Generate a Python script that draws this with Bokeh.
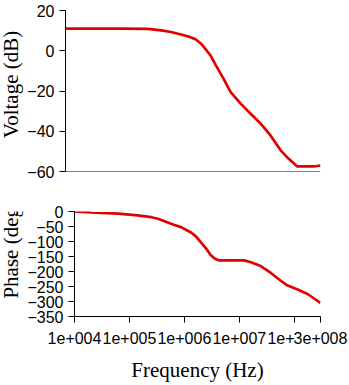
import math
from bokeh.plotting import figure
from bokeh.layouts import column, row
from bokeh.models import FixedTicker, Range1d, Span
from bokeh.core.properties import value
from bokeh.embed import file_html
from bokeh.resources import INLINE

# Data
freq_v = [1.0e4, 1.0e5, 2.8e5, 4.8e5, 7.1e5, 1.07e6, 1.5e6, 1.95e6, 2.4e6, 2.75e6,
          3.55e6, 4.37e6, 5.75e6, 7.94e6, 1.2e7, 1.78e7, 2.69e7, 3.98e7, 6.03e7,
          8.3e7, 1.17e8, 2.3e8, 3.0e8]
voltage_db = [11.0, 11.0, 10.9, 10.1, 9.3, 8.1, 6.9, 5.6, 3.5, 1.5,
              -2.5, -7.3, -13.1, -20.6, -26.4, -31.3, -36.3, -42.1, -49.6,
              -53.7, -57.5, -57.5, -57.0]

freq_p = [1.0e4, 2.0e4, 6.2e4, 1.4e5, 2.5e5, 3.3e5, 6.6e5, 8.7e5, 1.15e6, 1.32e6,
          1.62e6, 2.0e6, 2.45e6, 3.0e6, 3.55e6, 4.3e6, 1.23e7, 1.62e7, 2.45e7,
          3.7e7, 5.6e7, 7.4e7, 1.15e8, 1.74e8, 2.3e8, 3.0e8]
phase_deg = [0, -3, -7, -13, -19, -24, -45, -52, -64, -70,
             -83, -103, -122, -145, -157, -163, -163, -169, -182,
             -204, -230, -246, -260, -275, -290, -305]

x_ticks = [1e4, 1e5, 1e6, 1e7, 1e8, 3e8]
# the 1e+008 label is partly covered by 3e+008 in the reference
x_tick_labels = ["1e+004", "1e+005", "1e+006", "1e+007",
                 "1e+" + "\u00a0" * 6, "3e+008"]
v_ticks = [20, 0, -20, -40, -60]
p_ticks = [0, -50, -100, -150, -200, -250, -300, -350]
y_titles = ["Voltage (dB)", "Phase (deg)"]

LINE = "#e00000"
TICK_FONT = "Liberation Sans"
TITLE_FONT = "Liberation Serif"
TITLE_W = 24

def style(p):
    p.outline_line_color = None
    p.grid.visible = False
    p.background_fill_color = "white"
    p.border_fill_color = "white"
    for ax in p.axis:
        ax.axis_line_color = "black"
        ax.major_tick_line_color = "black"
        ax.major_tick_out = 6
        ax.major_tick_in = 0
        ax.minor_tick_line_color = None
        ax.major_label_text_font = TICK_FONT
        ax.major_label_text_font_size = "16px"
        ax.major_label_text_color = "black"
        ax.axis_label_text_font = TITLE_FONT
        ax.axis_label_text_font_size = "21px"
        ax.axis_label_text_font_style = "normal"
        ax.axis_label_text_color = "black"

def title_strip(text, height, ypos):
    t = figure(width=TITLE_W, height=height, x_range=Range1d(0, 1), y_range=Range1d(0, 1),
               title=None, output_backend="svg", toolbar_location=None,
               min_border_left=0, min_border_right=0, min_border_top=0, min_border_bottom=0)
    t.axis.visible = False
    t.grid.visible = False
    t.outline_line_color = None
    t.text(x=[0.42], y=[ypos], text=[text], angle=math.pi / 2,
           text_align="center", text_baseline="middle",
           text_font=value(TITLE_FONT), text_font_size=value("21px"), text_color="black")
    return t

# Top: voltage
p1 = figure(width=349 - TITLE_W, height=190, x_axis_type="log",
            x_range=Range1d(1e4, 3e8), y_range=Range1d(v_ticks[-1], v_ticks[0]),
            output_backend="svg", toolbar_location=None,
            min_border_top=10, min_border_bottom=19, min_border_left=64 - TITLE_W,
            min_border_right=29)
p1.line(freq_v, voltage_db, line_color=LINE, line_width=2.7)
style(p1)
p1.yaxis.ticker = FixedTicker(ticks=v_ticks)
p1.yaxis.major_label_standoff = 5
p1.xaxis.visible = False
p1.add_layout(Span(location=v_ticks[-1], dimension="width", line_color="black", line_width=1))

# Bottom: phase
p2 = figure(width=349 - TITLE_W, height=194, x_axis_type="log",
            x_range=Range1d(1e4, 3e8), y_range=Range1d(p_ticks[-1], p_ticks[0]),
            output_backend="svg", toolbar_location=None,
            min_border_top=21, min_border_bottom=63, min_border_left=73 - TITLE_W,
            min_border_right=29)
p2.line(freq_p, phase_deg, line_color=LINE, line_width=2.7)
style(p2)
p2.yaxis.ticker = FixedTicker(ticks=p_ticks)
p2.yaxis.major_label_standoff = 5
p2.xaxis.ticker = FixedTicker(ticks=x_ticks)
p2.xaxis.major_label_overrides = {t: l for t, l in zip(x_ticks, x_tick_labels)}
p2.xaxis.axis_label = "Frequency (Hz)"
p2.xaxis.major_label_standoff = 7
p2.xaxis.axis_label_standoff = 8

t1 = title_strip(y_titles[0], 190, 0.54)
t2 = title_strip(y_titles[1], 194, 0.64)

layout = column(row(t1, p1, spacing=0), row(t2, p2, spacing=0), spacing=0)
open("out.html", "w").write(file_html(layout, INLINE))
